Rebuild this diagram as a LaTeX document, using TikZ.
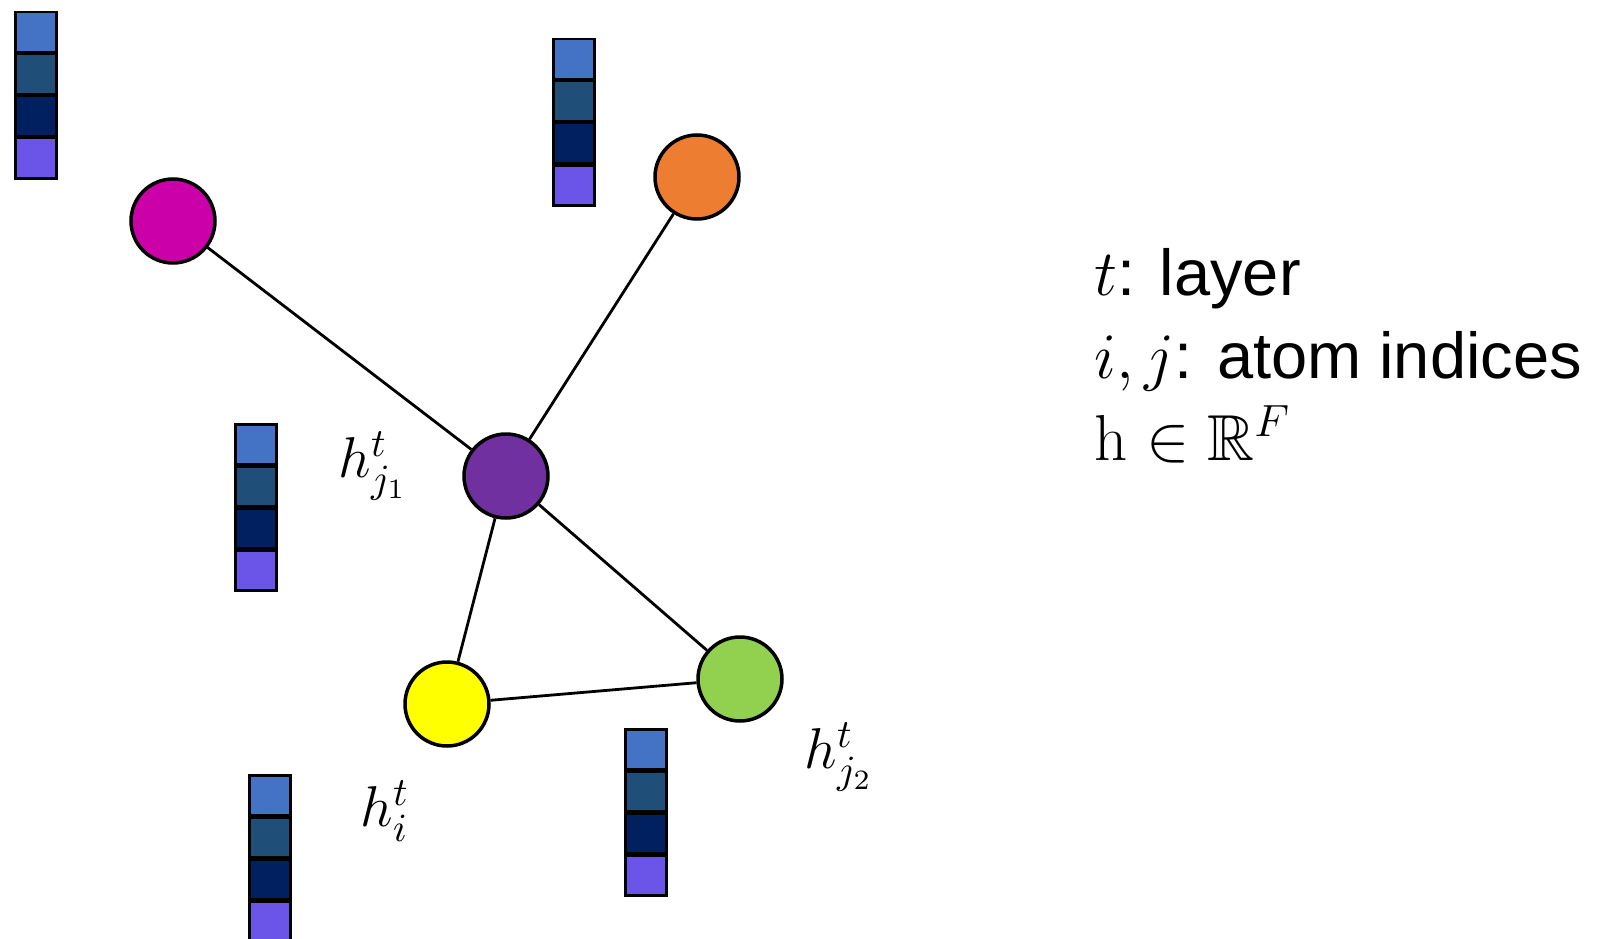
\documentclass[tikz,border=0pt]{standalone}
\usepackage{amssymb}
\usepackage[no-math]{fontspec}
\setmainfont{Liberation Sans}
\begin{document}
\definecolor{cellA}{HTML}{4472C4}
\definecolor{cellB}{HTML}{1F4E79}
\definecolor{cellC}{HTML}{002060}
\definecolor{cellD}{HTML}{6B55E9}
\definecolor{atomMag}{HTML}{CC00A8}
\definecolor{atomOra}{HTML}{ED7D31}
\definecolor{atomPur}{HTML}{7030A0}
\definecolor{atomYel}{HTML}{FFFF00}
\definecolor{atomGre}{HTML}{92D050}
\begin{tikzpicture}[x=1pt,y=-1pt,
  atom/.style={circle,draw=black,line width=3.5pt,minimum size=84pt,inner sep=0pt},
  bond/.style={line width=2.8pt,black},
  cell/.style={draw=black,line width=2.5pt,minimum width=41pt,minimum height=40pt,inner sep=0pt,anchor=north west},
  hlabel/.style={font=\fontsize{14.4}{17}\selectfont,scale=4,transform shape,inner sep=0pt},
  legend/.style={font=\fontsize{17.28}{20}\selectfont,scale=3.76,transform shape,anchor=base west,inner sep=0pt}]
\useasboundingbox (0,0) rectangle (1601,939);
\fill[white] (0,0) rectangle (1601,939);

% feature vectors: four coloured cells stacked vertically
\newcommand{\featvec}[3]{%
  \foreach \c [count=\k from 0] in {cellA,cellB,cellC,cellD}
    \node[cell,fill=\c] (#3-\k) at (#1+1,#2+1+42*\k) {};}
\featvec{13}{10}{fa}
\featvec{551}{37}{fb}
\featvec{233}{422}{fc}
\featvec{247}{773}{fd}
\featvec{623}{727}{fe}

% atoms
\node[atom,fill=atomMag] (mag) at (173,221) {};
\node[atom,fill=atomOra] (ora) at (697,177) {};
\node[atom,fill=atomPur] (pur) at (506,476) {};
\node[atom,fill=atomYel] (yel) at (447,704) {};
\node[atom,fill=atomGre] (gre) at (740,679) {};

% bonds
\draw[bond] (mag) -- (pur);
\draw[bond] (ora) -- (pur);
\draw[bond] (pur) -- (yel);
\draw[bond] (pur) -- (gre);
\draw[bond] (yel) -- (gre);

% hidden-state labels
\node[hlabel] (lj1) at (373,466) {$h^t_{j_1}$};
\node[hlabel] (li) at (385,811) {$h^t_i$};
\node[hlabel] (lj2) at (839,757) {$h^t_{j_2}$};

% legend
\node[legend] (leg1) at (1094,295) {$t$: layer};
\node[legend] (leg2) at (1094,378) {$i,j$: atom indices};
\node[legend] (leg3) at (1094,460) {$\mathrm{h}\in\mathbb{R}^F$};
\end{tikzpicture}
\end{document}
